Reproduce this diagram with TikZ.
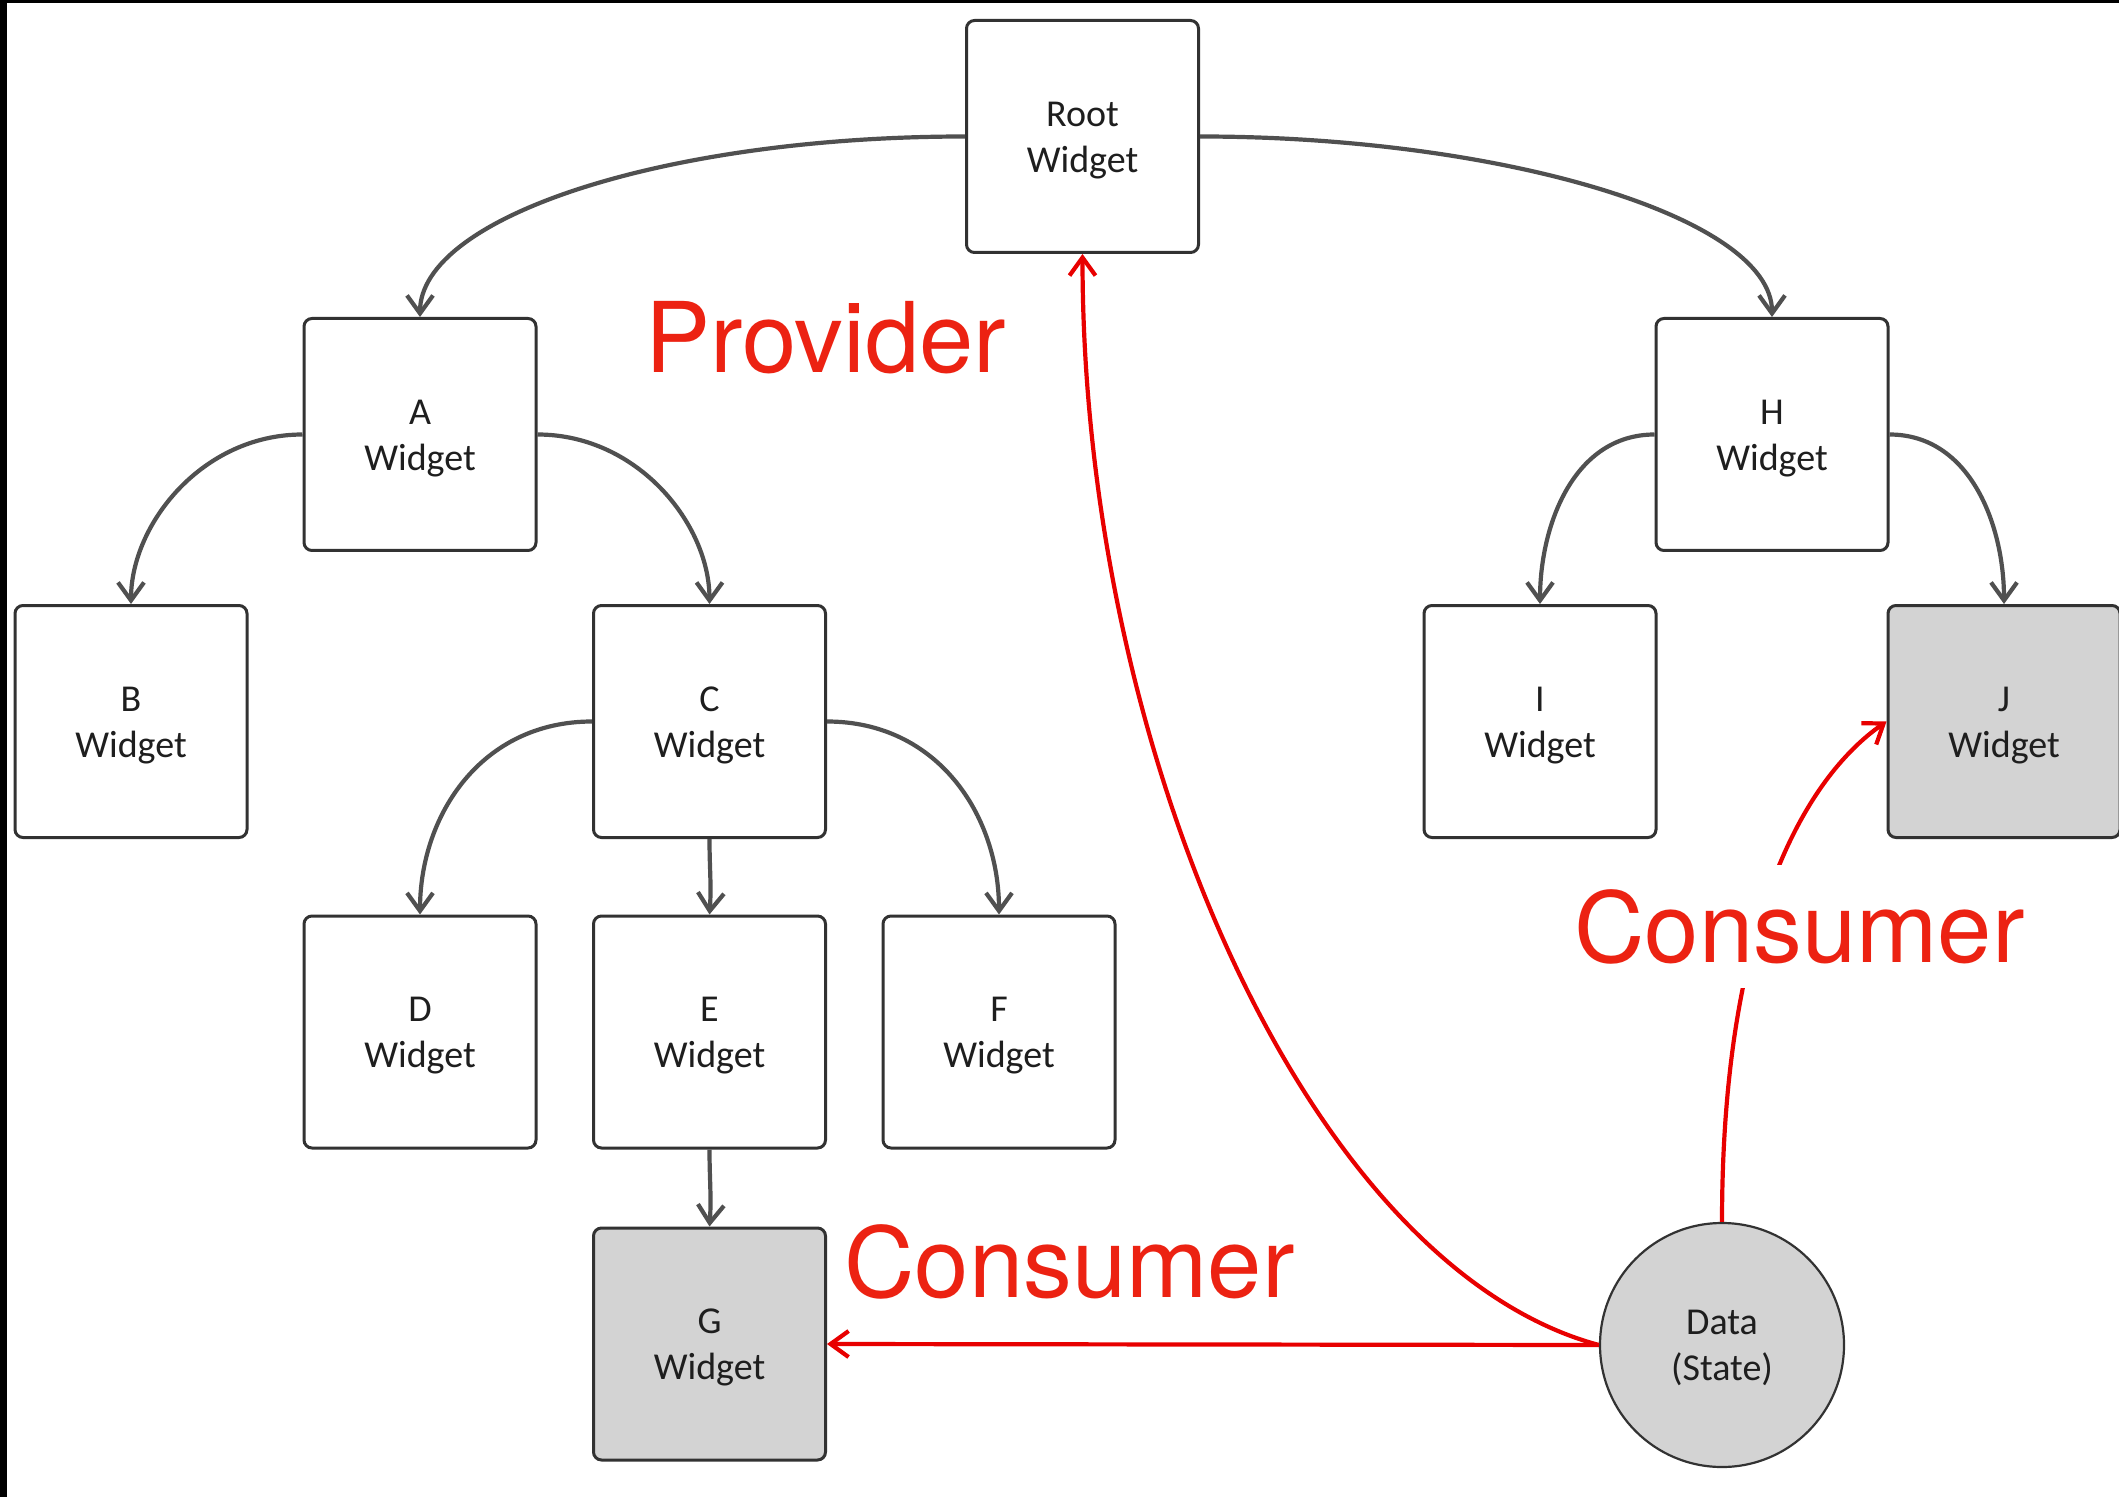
\documentclass[tikz,border=0pt]{standalone}
\usepackage{fontspec}
\setmainfont{Carlito}
\newfontfamily\labelfont{TeX Gyre Heros}
\usetikzlibrary{arrows.meta}
\definecolor{boxline}{RGB}{50,50,50}
\definecolor{conn}{RGB}{80,80,80}
\definecolor{redline}{RGB}{232,0,0}
\definecolor{redtext}{RGB}{236,34,18}
\definecolor{shade}{RGB}{211,211,211}
\definecolor{boxtext}{RGB}{30,30,30}
\begin{document}
\begin{tikzpicture}[x=0.5pt,y=-0.5pt,
  widget/.style={draw=boxline, line width=1.5pt, rounded corners=4pt,
    minimum width=116pt, minimum height=116pt, align=center,
    font=\fontsize{19}{23}\selectfont, text=boxtext, inner sep=0pt,
    text height=39.5pt, text depth=3.6pt},
  shaded/.style={widget, fill=shade},
  datanode/.style={circle, draw=boxline, line width=1.1pt, fill=shade,
    minimum size=122pt, align=center, font=\fontsize{19}{23}\selectfont,
    text=boxtext, inner sep=0pt, text height=39.5pt, text depth=3.6pt},
  tree/.style={draw=conn, line width=2.1pt, -{Straight Barb[length=9pt,width=13pt]}},
  flow/.style={draw=redline, line width=2.1pt, -{Straight Barb[length=9pt,width=13pt]}},
  biglabel/.style={font=\labelfont\fontsize{48.8}{48.8}\selectfont, text=redtext,
    inner sep=0pt, anchor=base west}]
\useasboundingbox (0,0) rectangle (2119,1497);
\fill[white] (0,0) rectangle (2119,1497);
\fill[black] (0,0) rectangle (7,1497);
\fill[black] (0,0) rectangle (2119,3);

% widgets
\node[widget] (root) at (1082.5,136.5) {Root\\Widget};
\node[widget] (A) at (420,434.5) {A\\Widget};
\node[widget] (B) at (131,721.5) {B\\Widget};
\node[widget] (C) at (709.5,721.5) {C\\Widget};
\node[widget] (D) at (420,1032) {D\\Widget};
\node[widget] (E) at (709.5,1032) {E\\Widget};
\node[widget] (F) at (999,1032) {F\\Widget};
\node[shaded] (G) at (709.5,1344) {G\\Widget};
\node[widget] (H) at (1772,434.5) {H\\Widget};
\node[widget] (I) at (1540,721.5) {I\\Widget};
\node[shaded] (J) at (2004,721.5) {J\\Widget};
\node[datanode] (data) at (1722,1345) {Data\\(State)};

% tree connectors
\draw[tree] (root.west) .. controls +(-300,0) and +(0,-100) .. (A.north);
\draw[tree] (root.east) .. controls +(300,0) and +(0,-100) .. (H.north);
\draw[tree] (A.west) .. controls +(-100,0) and +(0,-80) .. (B.north);
\draw[tree] (A.east) .. controls +(100,0) and +(0,-80) .. (C.north);
\draw[tree] (C.west) .. controls +(-110,0) and +(0,-100) .. (D.north);
\draw[tree] (C.east) .. controls +(110,0) and +(0,-100) .. (F.north);
\draw[tree] (C.south) .. controls +(0,30) and +(2,-30) .. (E.north);
\draw[tree] (E.south) .. controls +(0,30) and +(2,-30) .. (G.north);
\draw[tree] (H.west) .. controls +(-80,0) and +(0,-80) .. (I.north);
\draw[tree] (H.east) .. controls +(80,0) and +(0,-80) .. (J.north);

% provider / consumer flows
\draw[flow] (data.west) .. controls +(-290,-78) and +(0,500) .. (root.south);
\draw[flow] (data.west) -- (G.east);
\draw[flow] (data.north) .. controls +(0,-300) and +(-82,57) .. (J.west);

% labels
\node[biglabel] (prov) at (645,373) {Provider};
\node[biglabel] (consG) at (844,1297) {Consumer};
\node[biglabel, fill=white, inner xsep=4pt, inner ysep=12pt] (consJ) at (1566,962) {Consumer};
\end{tikzpicture}
\end{document}
